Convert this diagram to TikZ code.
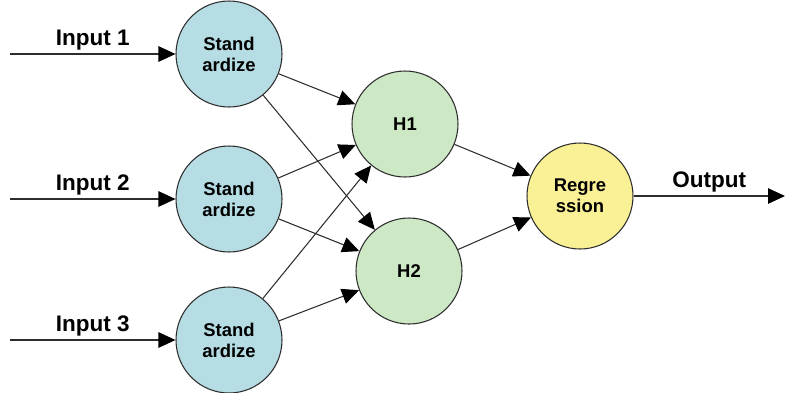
\documentclass[tikz,border=0pt]{standalone}
\usepackage{fontspec}
\setmainfont{Liberation Sans}
\usepackage{xcolor}
\usetikzlibrary{arrows.meta, positioning}
\definecolor{stdfill}{RGB}{181,221,227}
\definecolor{hidfill}{RGB}{205,232,196}
\definecolor{regfill}{RGB}{250,240,150}
\definecolor{edge}{RGB}{45,45,45}

\begin{document}
\begin{tikzpicture}[
  unit/.style={circle, draw=edge, line width=0.6pt, minimum size=2.12cm, inner sep=0pt,
               align=center, font=\bfseries\fontsize{10.5}{12}\selectfont},
  std/.style={unit, fill=stdfill},
  hid/.style={unit, fill=hidfill},
  reg/.style={unit, fill=regfill},
  lbl/.style={font=\bfseries\fontsize{12.8}{14}\selectfont, inner sep=2pt},
  arr/.style={-{Triangle[length=3.4mm, width=3.1mm, color=black, fill=black]}, line width=0.6pt, draw=edge}
]
  \useasboundingbox (0,0) rectangle (15.7,-7.84);

  \node[std] (s1) at (4.58,-1.08) {Stand\\ardize};
  \node[std] (s2) at (4.58,-3.98) {Stand\\ardize};
  \node[std] (s3) at (4.58,-6.80) {Stand\\ardize};

  \node[hid] (h1) at (8.10,-2.48) {H1};
  \node[hid] (h2) at (8.18,-5.42) {H2};

  \node[reg] (rg) at (11.60,-3.92) {Regre\\ssion};

  \coordinate (in1) at (0.2,-1.08);
  \coordinate (in2) at (0.2,-3.98);
  \coordinate (in3) at (0.2,-6.80);
  \coordinate (out) at (15.7,-3.92);

  \draw[arr] (in1) -- node[lbl, above] {Input 1} (s1);
  \draw[arr] (in2) -- node[lbl, above] {Input 2} (s2);
  \draw[arr] (in3) -- node[lbl, above] {Input 3} (s3);

  \foreach \s in {s1,s2,s3}{
    \draw[arr] (\s) -- (h1);
    \draw[arr] (\s) -- (h2);
  }

  \draw[arr] (h1) -- (rg);
  \draw[arr] (h2) -- (rg);
  \draw[arr] (rg) -- node[lbl, above] {Output} (out);
\end{tikzpicture}
\end{document}
